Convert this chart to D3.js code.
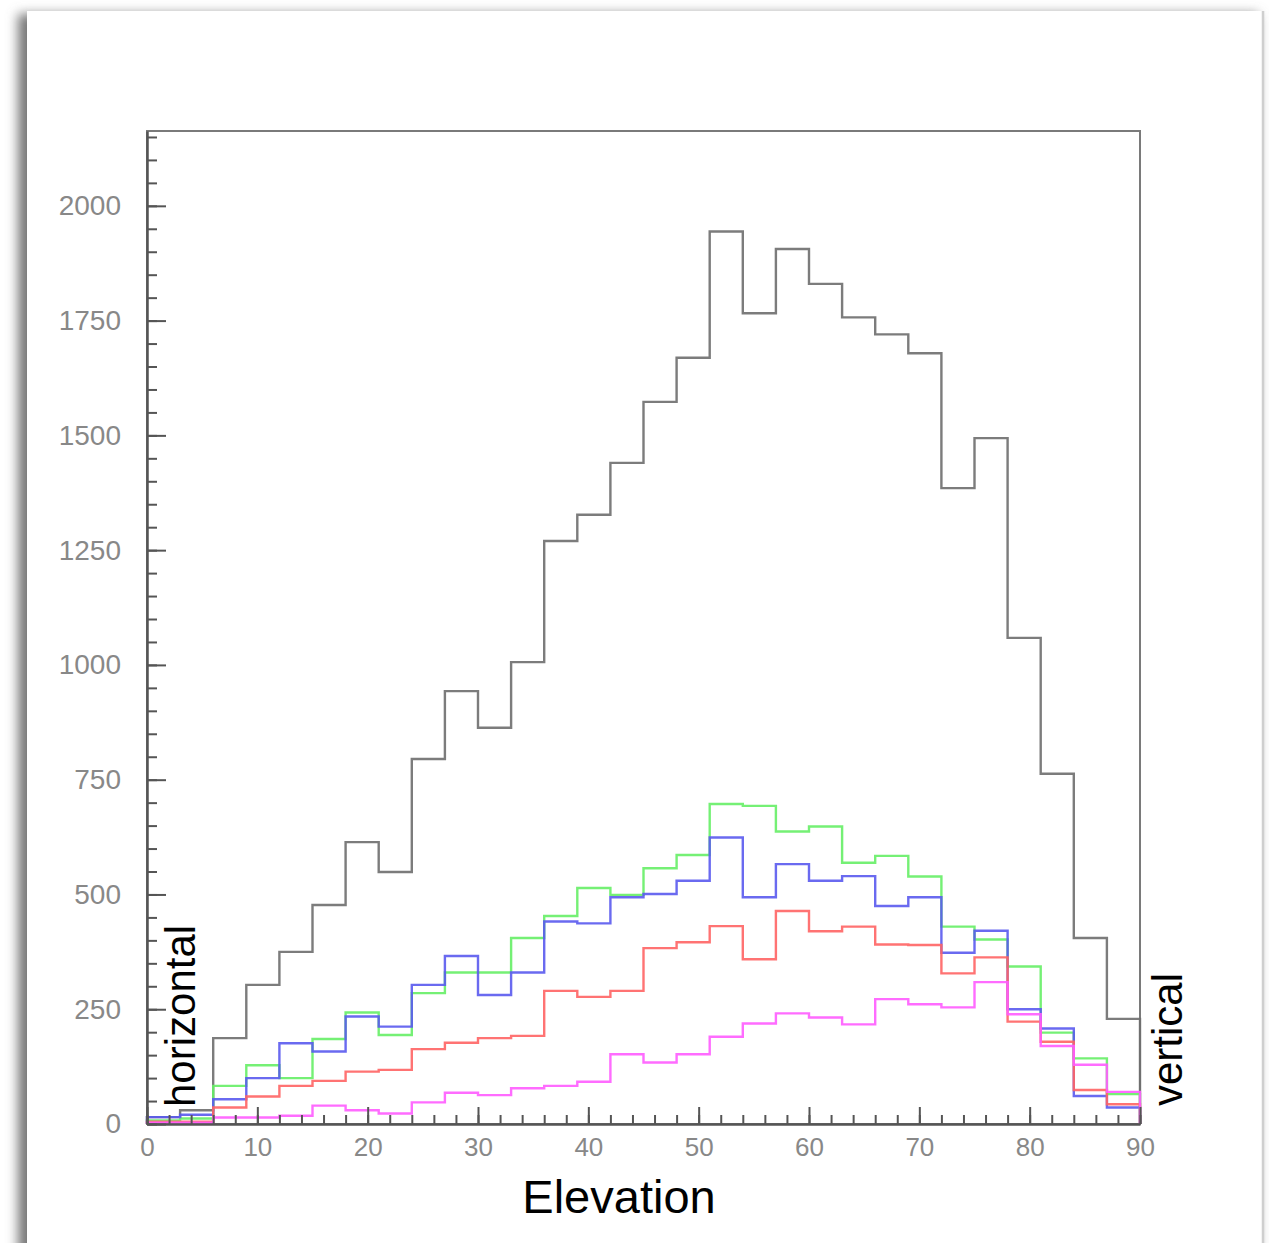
<!DOCTYPE html>
<html>
<head>
<meta charset="utf-8">
<script src="https://cdn.jsdelivr.net/npm/d3@7"></script>
<style>
  html, body { margin: 0; padding: 0; background: #fff; }
  svg { display: block; }
</style>
</head>
<body>
<div id="chart"></div>
<script>
// Bins de 3 grados entre 0 y 90
const BIN_EDGES = d3.range(0, 90, 3);
const X_TICKS = [0, 10, 20, 30, 40, 50, 60, 70, 80, 90];
const Y_TICKS = [0, 250, 500, 750, 1000, 1250, 1500, 1750, 2000];

// Valores (cuentas por bin)
const totalCounts = [15, 30, 187, 303, 375, 477, 614, 549, 795, 943, 863, 1006, 1270, 1327, 1440,
  1573, 1669, 1944, 1766, 1906, 1830, 1757, 1720, 1679, 1385, 1494, 1059, 763, 405, 229];
const greenCounts = [8, 12, 83, 128, 100, 185, 243, 194, 285, 330, 330, 405, 453, 514, 499,
  557, 586, 697, 693, 637, 648, 569, 584, 539, 430, 402, 343, 199, 143, 65];
const blueCounts = [15, 20, 54, 100, 176, 158, 234, 212, 303, 366, 281, 330, 441, 437, 494,
  501, 530, 624, 494, 566, 530, 540, 475, 494, 373, 421, 250, 208, 61, 36];
const redCounts = [5, 5, 36, 60, 83, 94, 114, 118, 163, 177, 187, 192, 290, 277, 290,
  383, 396, 431, 359, 464, 420, 430, 391, 390, 328, 363, 223, 179, 74, 43];
const magentaCounts = [3, 3, 14, 14, 18, 40, 30, 23, 47, 68, 63, 78, 83, 92, 152,
  134, 152, 190, 219, 241, 232, 217, 272, 261, 254, 309, 239, 170, 129, 70];

const SERIES = [
  { values: totalCounts, color: "#6e6e6e" },
  { values: greenCounts, color: "#66ee66" },
  { values: blueCounts, color: "#5a5aee" },
  { values: redCounts, color: "#ff6464" },
  { values: magentaCounts, color: "#ff5cff" }
];

const WIDTH = 1269;
const HEIGHT = 1243;
const PLOT = { left: 147, right: 1140, top: 131, bottom: 1124 };

const svg = d3.select("#chart").append("svg")
  .attr("width", WIDTH)
  .attr("height", HEIGHT);

// Sombra de la "hoja"
const defs = svg.append("defs");
defs.append("filter").attr("id", "shadow")
  .attr("x", "-5%").attr("y", "-5%").attr("width", "110%").attr("height", "110%")
  .append("feGaussianBlur").attr("stdDeviation", 6);

svg.append("rect")
  .attr("x", 18).attr("y", 14)
  .attr("width", 1240).attr("height", 1260)
  .attr("fill", "#777")
  .attr("filter", "url(#shadow)");

svg.append("rect")
  .attr("x", 27).attr("y", 11)
  .attr("width", 1235).attr("height", 1260)
  .attr("fill", "#fff");

svg.append("line")
  .attr("x1", 1263).attr("x2", 1263)
  .attr("y1", 11).attr("y2", HEIGHT)
  .attr("stroke", "#cfcfcf")
  .attr("stroke-width", 2.5);

// Escalas
const x = d3.scaleLinear().domain([0, 90]).range([PLOT.left, PLOT.right]);
const y = d3.scaleLinear().domain([0, 2163]).range([PLOT.bottom, PLOT.top]);

// Marco
svg.append("rect")
  .attr("x", PLOT.left).attr("y", PLOT.top)
  .attr("width", PLOT.right - PLOT.left)
  .attr("height", PLOT.bottom - PLOT.top)
  .attr("fill", "none")
  .attr("stroke", "#7a7a7a")
  .attr("stroke-width", 2);

// Histogramas
const line = d3.line()
  .x(d => x(d[0]))
  .y(d => y(d[1]))
  .curve(d3.curveStepAfter);

SERIES.forEach(s => {
  const pts = [[0, 0]];
  s.values.forEach((v, i) => pts.push([BIN_EDGES[i], v]));
  pts.push([90, s.values[s.values.length - 1]]);
  pts.push([90, 0]);
  svg.append("path")
    .datum(pts)
    .attr("d", line)
    .attr("fill", "none")
    .attr("stroke", s.color)
    .attr("stroke-width", 2.4)
    .attr("stroke-opacity", 0.9);
});

// Ejes: ticks menores
svg.append("g")
  .attr("transform", `translate(${PLOT.left},0)`)
  .call(d3.axisLeft(y).tickValues(d3.range(0, 2163, 50)).tickSize(-10).tickFormat(""))
  .call(g => g.select(".domain").remove())
  .call(g => g.selectAll("line").attr("stroke", "#555").attr("stroke-width", 2));

svg.append("g")
  .attr("transform", `translate(0,${PLOT.bottom})`)
  .call(d3.axisBottom(x).tickValues(d3.range(0, 91, 2)).tickSize(-9).tickFormat(""))
  .call(g => g.select(".domain").remove())
  .call(g => g.selectAll("line").attr("stroke", "#555").attr("stroke-width", 2));

// Ejes: ticks mayores con etiquetas
svg.append("g")
  .attr("transform", `translate(${PLOT.left},0)`)
  .call(d3.axisLeft(y).tickValues(Y_TICKS).tickFormat(d3.format("d"))
    .tickSize(-19).tickSizeOuter(0).tickPadding(26))
  .call(g => g.select(".domain").attr("stroke", "#555").attr("stroke-width", 2.5))
  .call(g => g.selectAll("line").attr("stroke", "#555").attr("stroke-width", 2))
  .call(g => g.selectAll("text")
    .style("font-family", "'Liberation Sans', Arial, sans-serif")
    .style("font-size", "28px")
    .attr("fill", "#888"));

svg.append("g")
  .attr("transform", `translate(0,${PLOT.bottom})`)
  .call(d3.axisBottom(x).tickValues(X_TICKS).tickFormat(d3.format("d"))
    .tickSize(-17).tickSizeOuter(0).tickPadding(14))
  .call(g => g.select(".domain").attr("stroke", "#555").attr("stroke-width", 2.5))
  .call(g => g.selectAll("line").attr("stroke", "#555").attr("stroke-width", 2))
  .call(g => g.selectAll("text")
    .style("font-family", "'Liberation Sans', Arial, sans-serif")
    .style("font-size", "26px")
    .attr("fill", "#888"));

// Titulo del eje x
svg.append("text")
  .attr("x", 619)
  .attr("y", 1213)
  .attr("text-anchor", "middle")
  .style("font-family", "'Liberation Sans', Arial, sans-serif")
  .style("font-size", "47px")
  .attr("fill", "#000")
  .text("Elevation");

// Etiquetas verticales
svg.append("text")
  .attr("transform", "translate(195,1107) rotate(-90)")
  .style("font-family", "'Liberation Sans', Arial, sans-serif")
  .style("font-size", "42px")
  .attr("fill", "#000")
  .text("horizontal");

svg.append("text")
  .attr("transform", "translate(1182,1106) rotate(-90)")
  .style("font-family", "'Liberation Sans', Arial, sans-serif")
  .style("font-size", "42px")
  .attr("fill", "#000")
  .text("vertical");
</script>
</body>
</html>
